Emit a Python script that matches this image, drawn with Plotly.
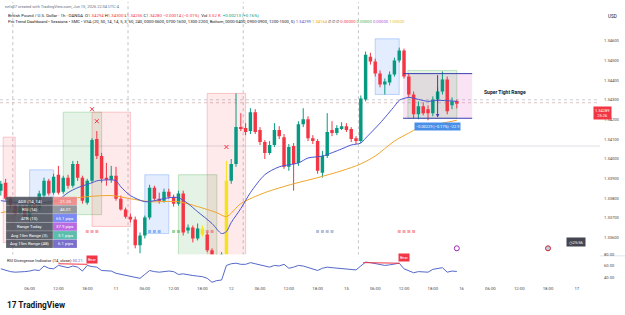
import plotly.graph_objects as go

# ---------------- data ----------------
bar_index = list(range(96))
opens = [
    1.33838, 1.33878, 1.33797, 1.33762, 1.33726, 1.33757, 1.33696, 1.33772, 1.33747, 1.33813,
    1.33888, 1.33828, 1.33919, 1.33833, 1.33904, 1.33863, 1.33974, 1.33904, 1.33777, 1.33888,
    1.34100, 1.34014, 1.33904, 1.33893, 1.33914, 1.33797, 1.33742, 1.33706, 1.33691, 1.33560,
    1.33610, 1.33701, 1.33853, 1.33797, 1.33787, 1.33833, 1.33807, 1.33772, 1.33823, 1.33636,
    1.33651, 1.33595, 1.33646, 1.33615, 1.33535, 1.33494, 1.33504, 1.33514, 1.33888, 1.33974,
    1.34161, 1.34156, 1.34141, 1.34237, 1.34146, 1.34085, 1.34030, 1.34070, 1.34146, 1.34110,
    1.33959, 1.34065, 1.33979, 1.34176, 1.34201, 1.34105, 1.34090, 1.33929, 1.34014, 1.34146,
    1.34131, 1.34156, 1.34166, 1.34151, 1.34105, 1.34090, 1.34302, 1.34519, 1.34494, 1.34433,
    1.34378, 1.34388, 1.34428, 1.34499, 1.34550, 1.34418, 1.34327, 1.34226, 1.34267, 1.34252,
    1.34232, 1.34302, 1.34342, 1.34403, 1.34272, 1.34294]
highs = [
    1.33888, 1.33898, 1.33807, 1.33772, 1.33772, 1.33767, 1.33787, 1.33792, 1.33838, 1.33904,
    1.33898, 1.33924, 1.33964, 1.33914, 1.33919, 1.33989, 1.33989, 1.33914, 1.33898, 1.34105,
    1.34141, 1.34030, 1.33979, 1.33964, 1.33959, 1.33813, 1.33752, 1.33721, 1.33706, 1.33625,
    1.33711, 1.33868, 1.33863, 1.33828, 1.33848, 1.33848, 1.33818, 1.33838, 1.33838, 1.33666,
    1.33661, 1.33671, 1.33661, 1.33625, 1.33545, 1.33514, 1.33525, 1.33989, 1.33999, 1.34332,
    1.34232, 1.34181, 1.34257, 1.34252, 1.34161, 1.34095, 1.34090, 1.34181, 1.34166, 1.34126,
    1.34075, 1.34080, 1.34191, 1.34257, 1.34216, 1.34120, 1.34100, 1.34040, 1.34232, 1.34191,
    1.34171, 1.34186, 1.34181, 1.34161, 1.34115, 1.34322, 1.34545, 1.34539, 1.34509, 1.34449,
    1.34408, 1.34444, 1.34514, 1.34565, 1.34560, 1.34433, 1.34342, 1.34292, 1.34287, 1.34272,
    1.34317, 1.34363, 1.34444, 1.34418, 1.34312, 1.34300]
lows = [
    1.33813, 1.33787, 1.33747, 1.33711, 1.33716, 1.33691, 1.33681, 1.33731, 1.33737, 1.33802,
    1.33813, 1.33818, 1.33818, 1.33823, 1.33848, 1.33853, 1.33888, 1.33772, 1.33767, 1.33878,
    1.33999, 1.33878, 1.33863, 1.33878, 1.33787, 1.33737, 1.33696, 1.33676, 1.33545, 1.33520,
    1.33595, 1.33691, 1.33787, 1.33772, 1.33777, 1.33797, 1.33757, 1.33762, 1.33610, 1.33620,
    1.33575, 1.33585, 1.33605, 1.33525, 1.33474, 1.33474, 1.33484, 1.33499, 1.33873, 1.33959,
    1.34141, 1.34120, 1.34126, 1.34126, 1.34070, 1.33999, 1.34020, 1.34060, 1.34100, 1.33949,
    1.33939, 1.33838, 1.33964, 1.34161, 1.34090, 1.34075, 1.33924, 1.33904, 1.34004, 1.34115,
    1.34120, 1.34146, 1.34136, 1.34085, 1.34075, 1.34080, 1.34292, 1.34479, 1.34418, 1.34363,
    1.34327, 1.34373, 1.34418, 1.34489, 1.34408, 1.34312, 1.34206, 1.34201, 1.34221, 1.34196,
    1.34216, 1.34287, 1.34327, 1.34226, 1.34252, 1.34256]
closes = [
    1.33873, 1.33797, 1.33762, 1.33726, 1.33757, 1.33706, 1.33772, 1.33747, 1.33823, 1.33888,
    1.33823, 1.33909, 1.33828, 1.33904, 1.33863, 1.33974, 1.33904, 1.33787, 1.33888, 1.34095,
    1.34014, 1.33898, 1.33893, 1.33914, 1.33797, 1.33742, 1.33706, 1.33691, 1.33560, 1.33610,
    1.33701, 1.33853, 1.33797, 1.33787, 1.33833, 1.33807, 1.33772, 1.33823, 1.33625, 1.33651,
    1.33595, 1.33646, 1.33615, 1.33535, 1.33494, 1.33504, 1.33514, 1.33888, 1.33974, 1.34161,
    1.34156, 1.34136, 1.34237, 1.34136, 1.34085, 1.34030, 1.34070, 1.34146, 1.34115, 1.33959,
    1.34060, 1.33974, 1.34176, 1.34201, 1.34105, 1.34090, 1.33939, 1.34014, 1.34136, 1.34131,
    1.34156, 1.34166, 1.34146, 1.34100, 1.34090, 1.34307, 1.34529, 1.34494, 1.34433, 1.34378,
    1.34393, 1.34428, 1.34499, 1.34550, 1.34418, 1.34327, 1.34226, 1.34267, 1.34232, 1.34232,
    1.34302, 1.34342, 1.34403, 1.34242, 1.34292, 1.34280]
yellow_bars = [42, 47]

ema_fast_x = [0, 6, 9, 12, 14, 16, 19, 20, 23, 24, 25, 27, 30, 32, 35, 37, 39, 41, 44, 46, 47,
              48, 50, 52, 55, 58, 62, 64, 67, 71, 73, 75, 76, 79, 82, 83, 85, 87, 89, 91, 95]
ema_fast_y = [1.33787, 1.33772, 1.33777, 1.33792, 1.33828, 1.33853, 1.33878, 1.33888, 1.33893,
              1.33888, 1.33858, 1.33813, 1.33782, 1.33787, 1.33802, 1.33802, 1.33772, 1.33731,
              1.33671, 1.33620, 1.33630, 1.33676, 1.33747, 1.33828, 1.33919, 1.33959, 1.33979,
              1.34004, 1.34014, 1.34050, 1.34070, 1.34080, 1.34105, 1.34181, 1.34267, 1.34297,
              1.34312, 1.34302, 1.34292, 1.34297, 1.34292]
ema_slow_x = [0, 10, 16, 23, 27, 31, 37, 41, 45, 47, 50, 55, 61, 66, 71, 75, 78, 82, 85, 87, 90, 95]
ema_slow_y = [1.33726, 1.33772, 1.33802, 1.33813, 1.33797, 1.33782, 1.33782, 1.33757, 1.33726,
              1.33706, 1.33772, 1.33828, 1.33873, 1.33904, 1.33939, 1.33974, 1.34014, 1.34090,
              1.34131, 1.34156, 1.34171, 1.34196]

rsi_values = [55, 52, 50, 49, 49, 50, 51, 53, 52, 60,
              56, 55, 61, 59, 57, 60, 58, 51, 61, 59,
              58, 52, 51, 51, 47, 45, 44, 42, 40, 38,
              45, 52, 50, 49, 50, 51, 50, 45, 46, 44,
              43, 42, 41, 38, 31, 34, 35, 61, 64, 65,
              63, 63, 66, 64, 62, 61, 58, 61, 60, 63,
              56, 58, 61, 60, 57, 54, 52, 56, 58, 57,
              56, 55, 55, 54, 53, 60, 67, 66, 64, 62,
              61, 62, 63, 65, 55, 51, 48, 50, 49, 49,
              54, 55, 57, 49, 51, 50.21]
rsi_div_lines = [([12, 18], [64, 63]), ([75.5, 83], [66, 65])]
rsi_div_labels = [(19, 71.5), (84, 74.5)]

time_tick_vals = [6, 12, 18, 24, 30, 36, 42, 48, 54, 60, 66, 72, 78, 84, 90, 96, 102, 108, 114, 120]
time_tick_text = ["06:00", "12:00", "18:00", "11", "06:00", "12:00", "18:00", "12",
                  "06:00", "12:00", "18:00", "15", "06:00", "12:00", "18:00", "16",
                  "06:00", "12:00", "18:00", "17"]
price_tick_vals = [1.33600, 1.33700, 1.33800, 1.33900, 1.34000, 1.34100,
                   1.34200, 1.34300, 1.34400, 1.34500, 1.34600]
price_tick_text = ["1.33600", "1.33700", "1.33800", "1.33900", "1.34000", "1.34100",
                   "1.34200", "1.34300", "1.34400", "1.34500", "1.34600"]
rsi_tick_vals = [40, 60, 80]
rsi_tick_text = ["40.00", "60.00", "80.00"]

sessions = [
    ("ny", 0.5, 3.0, 1.34110, 1.33575),
    ("asia", 6.0, 11.0, 1.33944, 1.33625),
    ("london", 13.0, 21.0, 1.34237, 1.33716),
    ("ny", 19.0, 27.0, 1.34237, 1.33656),
    ("asia", 30.0, 35.0, 1.33919, 1.33620),
    ("london", 37.0, 45.0, 1.33919, 1.33480),
    ("ny", 43.0, 51.0, 1.34332, 1.33480),
    ("asia", 78.0, 83.0, 1.34610, 1.34327),
    ("london", 84.8, 95.0, 1.34449, 1.34206),
]
range_box = (83.8, 98.2, 1.34433, 1.34206)
range_text = "−0.00229 (−0.17%) −22.9"
session_dots = [
    ([18, 19, 20], "rgba(242,54,69,0.45)"),
    ([31, 32, 33], "rgba(66,133,244,0.55)"),
    ([36, 37], "rgba(76,175,80,0.55)"),
    ([43, 44], "rgba(242,54,69,0.45)"),
    ([66, 67, 68, 69], "rgba(120,140,180,0.55)"),
    ([83, 84, 85, 86], "rgba(242,54,69,0.45)"),
]
dot_price = 1.33631
x_marks_x = [3, 19, 20, 47]
x_marks_y = [1.33726, 1.34252, 1.34191, 1.34060]

table_labels = ["ADX (14, 14)", "RSI (14)", "ATR (10)", "Range Today",
                "Avg 15m Range (3)", "Avg 15m Range (48)"]
table_values = ["21.25", "46.01", "65.1 pips", "37.9 pips", "3.1 pips", "6.1 pips"]
table_colors = ["#ef8a8a", "#8d9099", "#6f7ff2", "#b45fe0", "#4fb8a6", "#6f63c9"]

GREEN, RED, YELLOW = "#089981", "#f23645", "#f5e31c"
FONT = "Roboto"

W, H = 625, 315
def px(x): return x / W
def py(y): return 1 - y / H

fig = go.Figure()

# ---------------- shapes ----------------
style = {
    "asia": ("rgba(66,133,244,0.15)", "rgba(66,133,244,0.40)"),
    "london": ("rgba(76,175,80,0.15)", "rgba(76,175,80,0.40)"),
    "ny": ("rgba(242,54,69,0.11)", "rgba(242,54,69,0.32)"),
}
shapes = []
shapes.append(dict(type="rect", xref="x", yref="y", x0=range_box[0], x1=range_box[1],
                   y0=range_box[3], y1=range_box[2], fillcolor="rgba(230,80,200,0.16)",
                   line=dict(width=0), layer="below"))
for kind, a, b, top, bot in sessions:
    f, l = style[kind]
    shapes.append(dict(type="rect", xref="x", yref="y", x0=a, x1=b, y0=bot, y1=top,
                       fillcolor=f, line=dict(color=l, width=0.8), layer="below"))
shapes.append(dict(type="rect", xref="paper", yref="y2", x0=0, x1=0.96, y0=30, y1=70,
                   fillcolor="rgba(41,98,255,0.09)", line=dict(width=0), layer="below"))
shapes.append(dict(type="line", xref="paper", yref="paper", x0=0, x1=1, y0=py(255.5), y1=py(255.5),
                   line=dict(color="#e0e3eb", width=1), layer="below"))
for xv in [2.5, 26.5, 50.5, 74.5]:
    shapes.append(dict(type="line", xref="x", yref="paper", x0=xv, x1=xv, y0=py(285), y1=1,
                       line=dict(color="#b2b5be", width=0.8, dash="dot"), layer="below"))
shapes.append(dict(type="line", xref="paper", yref="y", x0=0, x1=0.96, y0=1.34065, y1=1.34065,
                   line=dict(color="#d6d8de", width=0.8), layer="below"))
for yv, c in [(1.34300, "#bfc2c9"), (1.34285, "#d4b4b8")]:
    shapes.append(dict(type="line", xref="paper", yref="y", x0=0, x1=0.96, y0=yv, y1=yv,
                       line=dict(color=c, width=0.8, dash="dot"), layer="below"))
for yv in (range_box[2], range_box[3]):
    shapes.append(dict(type="line", xref="x", yref="y", x0=range_box[0], x1=range_box[1], y0=yv, y1=yv,
                       line=dict(color="#3a3fb0", width=1)))

row_h = 8.6
t_top = 196
for k, (lab, val, col) in enumerate(zip(table_labels, table_values, table_colors)):
    y0 = t_top + k * row_h
    shapes.append(dict(type="rect", xref="paper", yref="paper", x0=px(6), x1=px(53),
                       y0=py(y0 + row_h), y1=py(y0), fillcolor="rgba(70,73,84,0.86)",
                       line=dict(color="rgba(255,255,255,0.35)", width=0.5), layer="above"))
    shapes.append(dict(type="rect", xref="paper", yref="paper", x0=px(53), x1=px(77),
                       y0=py(y0 + row_h), y1=py(y0), fillcolor=col, opacity=0.92,
                       line=dict(color="rgba(255,255,255,0.35)", width=0.5), layer="above"))

fig.update_layout(shapes=shapes)

# ---------------- candles ----------------
def ccolor(i):
    if i in yellow_bars:
        return YELLOW
    return GREEN if closes[i] >= opens[i] else RED

colors = [ccolor(i) for i in bar_index]
for col in (GREEN, RED, YELLOW):
    wx, wy = [], []
    for i in bar_index:
        if colors[i] == col:
            wx += [i, i, None]
            wy += [lows[i], highs[i], None]
    fig.add_trace(go.Scatter(x=wx, y=wy, mode="lines", line=dict(color=col, width=1),
                             hoverinfo="skip", xaxis="x", yaxis="y"))

body_base = [min(o, c) for o, c in zip(opens, closes)]
body_h = [max(abs(c - o), 0.00002) for o, c in zip(opens, closes)]
fig.add_trace(go.Bar(x=bar_index, y=body_h, base=body_base, width=0.72,
                     marker=dict(color=colors, line=dict(width=0)),
                     hoverinfo="skip", xaxis="x", yaxis="y"))

fig.add_trace(go.Scatter(x=ema_slow_x, y=ema_slow_y, mode="lines",
                         line=dict(color="#f0a52c", width=1, shape="spline", smoothing=0.8),
                         hoverinfo="skip", xaxis="x", yaxis="y"))
fig.add_trace(go.Scatter(x=ema_fast_x, y=ema_fast_y, mode="lines",
                         line=dict(color="#4a55d0", width=1, shape="spline", smoothing=0.8),
                         hoverinfo="skip", xaxis="x", yaxis="y"))

for xs, c in session_dots:
    fig.add_trace(go.Scatter(x=xs, y=[dot_price] * len(xs), mode="markers",
                             marker=dict(symbol="square", size=3, color=c),
                             hoverinfo="skip", xaxis="x", yaxis="y"))
fig.add_trace(go.Scatter(x=x_marks_x, y=x_marks_y, mode="markers",
                         marker=dict(symbol="x-thin", size=4, line=dict(color="#f23645", width=1)),
                         hoverinfo="skip", xaxis="x", yaxis="y"))
fig.add_trace(go.Scatter(x=[95], y=[1.33545], mode="markers",
                         marker=dict(symbol="circle", size=5, color="white",
                                     line=dict(color="#9c27b0", width=1)),
                         hoverinfo="skip", xaxis="x", yaxis="y"))
fig.add_trace(go.Scatter(x=[114], y=[1.33545], mode="markers",
                         marker=dict(symbol="circle", size=5, color="#c5cae9",
                                     line=dict(color="#c62828", width=1)),
                         hoverinfo="skip", xaxis="x", yaxis="y"))

fig.add_trace(go.Scatter(x=bar_index, y=rsi_values, mode="lines",
                         line=dict(color="#5468c9", width=1),
                         hoverinfo="skip", xaxis="x", yaxis="y2"))
for xs, ys in rsi_div_lines:
    fig.add_trace(go.Scatter(x=xs, y=ys, mode="lines", line=dict(color="#f23645", width=1),
                             hoverinfo="skip", xaxis="x", yaxis="y2"))

# ---------------- annotations ----------------
ann = []
def txt(x, y, text, size, color="#131722", xanchor="left", **kw):
    d = dict(x=x, y=y, xref="paper", yref="paper", text=text, showarrow=False,
             xanchor=xanchor, yanchor="middle", font=dict(size=size, color=color, family=FONT))
    d.update(kw)
    ann.append(d)

txt(px(3), py(5), "ezfx07 created with TradingView.com, Jun 15, 2026 22:34 UTC-4", 4.0, "#6a6d78")
R = '<span style="color:#f23645">'
E = '</span>'
line2 = ("British Pound / U.S. Dollar · 1h · OANDA&nbsp; O" + R + "1.34294" + E + " H" + R + "1.34300" + E +
         " L" + R + "1.34256" + E + " C" + R + "1.34280" + E + " " + R + "−0.00014 (−0.01%)" + E +
         "&nbsp; Vol " + R + "3.52 K" + E + "&nbsp; " +
         '<span style="color:#089981">+0.00213 (+0.16%)</span>')
txt(px(6), py(13.5), line2, 4.3)
line3 = ("Pro Trend Dashboard • Sessions • SMC • VSA (20, 50, 14, 14, 5, 3, 50, 240, 0000-0600, "
         "0700-1600, 1300-2200, Bottom, 0000-0400, 0900-0900, 1200-1500, 5) "
         '<span style="color:#4a55d0">1.34299</span> <span style="color:#f0a52c">1.34164</span> '
         '∅ ∅ ∅ <span style="color:#f23645">0.00000</span> <span style="color:#4caf50">0.00000</span> '
         '<span style="color:#b04fe0">0.00000</span> <span style="color:#e8c21a">1.00000</span>')
txt(px(6), py(19.8), line3, 4.2)
txt(px(612), py(15), "USD", 4.6, xanchor="center")

for k, (lab, val) in enumerate(zip(table_labels, table_values)):
    yc = t_top + k * row_h + row_h / 2
    txt(px(29.5), py(yc), lab, 4.3, "white", xanchor="center")
    txt(px(65), py(yc), val, 4.3, "white", xanchor="center")

ann.append(dict(x=91, y=range_box[3] + 0.00004, xref="x", yref="y", ax=91, ay=range_box[2],
                axref="x", ayref="y", text="", showarrow=True, arrowhead=2, arrowsize=0.7,
                arrowwidth=1, arrowcolor="#3a3fb0"))
ann.append(dict(x=91, y=1.34166, xref="x", yref="y", text=range_text, showarrow=False,
                font=dict(size=3.9, color="white", family=FONT), bgcolor="#4a8fe7", borderpad=1))
ann.append(dict(x=105, y=1.34337, xref="x", yref="y", text="<b>Super Tight Range</b>",
                showarrow=False, font=dict(size=5, color="#131722", family=FONT)))

txt(px(5), py(260), 'RSI Divergence Indicator (14, close) <span style="color:#5468c9">50.21</span>',
    4.1, "#131722")
for xv, yv in rsi_div_labels:
    ann.append(dict(x=xv, y=yv, xref="x", yref="y2", text="Bear", showarrow=False,
                    font=dict(size=3.8, color="white", family=FONT), bgcolor="#f23645", borderpad=1))

ann.append(dict(x=px(612), y=py(105), xref="paper", yref="paper", text="1.34289<br>25:26",
                showarrow=False, font=dict(size=4, color="white", family=FONT),
                bgcolor="#f23645", borderpad=1, align="center"))
ann.append(dict(x=px(586), y=py(247), xref="paper", yref="paper", text="◷ 25:56",
                showarrow=False, font=dict(size=4.2, color="white", family=FONT),
                bgcolor="#434651", borderpad=1.5))
txt(px(5), py(305), "<b>17 TradingView</b>", 8.3, "#131722")

fig.update_layout(annotations=ann)

# ---------------- layout ----------------
fig.update_layout(
    width=W, height=H, margin=dict(l=0, r=0, t=0, b=0),
    paper_bgcolor="white", plot_bgcolor="white",
    showlegend=False, hovermode=False, barmode="overlay",
    font=dict(family=FONT, size=4.3, color="#4a4a4a"),
    xaxis=dict(domain=[0, 0.96], range=[-0.17, 124.83], anchor="y2",
               tickvals=time_tick_vals, ticktext=time_tick_text,
               tickfont=dict(size=4.3, color="#4a4a4a"), ticks="",
               showgrid=False, zeroline=False, showline=False),
    yaxis=dict(domain=[1 - 255 / H, 1], range=[1.33509, 1.34797], anchor="x", side="right",
               tickvals=price_tick_vals, ticktext=price_tick_text,
               tickfont=dict(size=4.1, color="#4a4a4a"), ticks="", ticklabelstandoff=3,
               showgrid=False, zeroline=False, showline=False),
    yaxis2=dict(domain=[1 - 285 / H, 1 - 254 / H], range=[25.8, 80.7], anchor="x", side="right",
                tickvals=rsi_tick_vals, ticktext=rsi_tick_text,
                tickfont=dict(size=4.1, color="#4a4a4a"), ticks="", ticklabelstandoff=3,
                showgrid=False, zeroline=False, showline=False),
)

fig.write_html("out.html")
